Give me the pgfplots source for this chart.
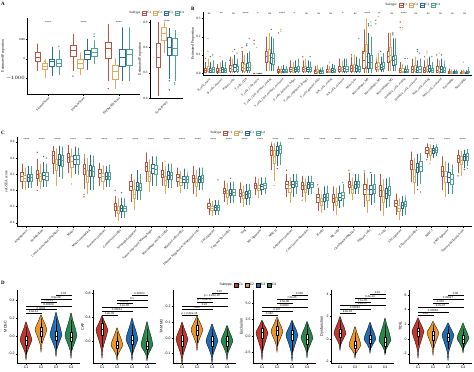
\documentclass[border=0pt]{standalone}
\usepackage{fontspec}
\setmainfont{Liberation Serif}
\setsansfont{Liberation Sans}
\usepackage{pgfplots}
\pgfplotsset{compat=1.18}

\definecolor{cA}{RGB}{184,84,68}
\definecolor{cB}{RGB}{222,170,92}
\definecolor{cC}{RGB}{40,108,148}
\definecolor{cD}{RGB}{78,162,148}
\definecolor{dA}{RGB}{196,54,42}
\definecolor{dB}{RGB}{236,150,40}
\definecolor{dC}{RGB}{28,110,180}
\definecolor{dD}{RGB}{40,135,75}

\newcommand{\fs}[1]{\fontsize{#1}{#1}\selectfont}
% box: #1 pos, #2 colour, #3 half width, #4 lower whisker, #5 q1, #6 median, #7 q3, #8 upper whisker
\newcommand{\bxg}[8]{%
\addplot[#2, line width=0.3pt, fill=white] table[row sep=\\, x expr=#1+(\thisrow{d})*#3, y=y] {d y\\ 0 #4\\ 0 #5\\ -1 #5\\ -1 #7\\ 0 #7\\ 0 #8\\ 0 #7\\ 1 #7\\ 1 #5\\ 0 #5\\};
\addplot[#2, line width=0.55pt] table[row sep=\\, x expr=#1+(\thisrow{d})*#3, y=y] {d y\\ -1 #6\\ 1 #6\\};}
\newcommand{\bA}[6]{\bxg{#1-0.3}{cA}{\bw}{#2}{#3}{#4}{#5}{#6}}
\newcommand{\bB}[6]{\bxg{#1-0.1}{cB}{\bw}{#2}{#3}{#4}{#5}{#6}}
\newcommand{\bC}[6]{\bxg{#1+0.1}{cC}{\bw}{#2}{#3}{#4}{#5}{#6}}
\newcommand{\bD}[6]{\bxg{#1+0.3}{cD}{\bw}{#2}{#3}{#4}{#5}{#6}}
\newcommand{\ib}[6]{\bxg{#1}{black}{0.06}{#2}{#3}{#4}{#5}{#6}}
\newcommand{\vio}[9]{\addplot[fill=#2, draw=black, line width=0.3pt, smooth, tension=0.5] table[row sep=\\, x expr=#1+\thisrow{w}, y=y] {w y\\ 0.4 #6\\ 0.28 #7\\ 0.12 #8\\ 0 #9\\ -0.12 #8\\ -0.28 #7\\ -0.4 #6\\ -0.24 #5\\ -0.06 #4\\ 0 #3\\ 0.06 #4\\ 0.24 #5\\ 0.4 #6\\};}
\newcommand{\br}[4]{\draw[line width=0.25pt] ([yshift=-0.8pt]axis cs:#1,#3) -- (axis cs:#1,#3) -- node[above, inner sep=0.3pt, font=\sffamily\fs{2.8}] {#4} (axis cs:#2,#3) -- ([yshift=-0.8pt]axis cs:#2,#3);}
\newcommand{\sg}[3]{\node[font=\fs{3}] at (axis cs:#1,#2) {#3};}

\pgfplotsset{
  base/.style={scale only axis, clip=false, axis x line*=bottom, axis y line*=left,
    axis line style={line width=0.35pt,-}, tick align=outside, major tick length=1.5pt,
    tick style={line width=0.3pt,black}, tick label style={font=\fs{3.3}},
    /pgf/number format/assume math mode=true, /pgf/number format/1000 sep={},
    scaled ticks=false, label style={font=\fs{3.8}}, ylabel style={inner sep=0.8pt},
    yticklabel style={inner sep=0.8pt}, xticklabel style={inner sep=1pt}},
  onedec/.style={yticklabel style={/pgf/number format/.cd, fixed, fixed zerofill, precision=1}},
  leg/.style={legend columns=-1, legend style={draw=none, fill=none, font=\fs{3.3}, inner sep=0pt,
    nodes={inner sep=0.6pt}, /tikz/every even column/.append style={column sep=1.5pt}}},
  boxleg/.style={legend image code/.code={\draw[#1, line width=0.3pt, fill=white] (0pt,-1.8pt) rectangle (4pt,1.8pt); \draw[#1, line width=0.3pt] (0pt,0pt)--(4pt,0pt);}},
  sqleg/.style={legend image code/.code={\draw[#1, draw=black, line width=0.2pt] (0pt,-1.8pt) rectangle (4pt,1.8pt);}},
  rot/.style={xticklabel style={rotate=45, anchor=north east, font=\fs{3.2}}},
  dax/.style={base, width=63pt, height=73pt, xmin=0.4, xmax=4.6, xtick={1,2,3,4}, xticklabels={C1,C2,C3,C4},
    tick label style={font=\sffamily\fs{3.5}}, label style={font=\sffamily\fs{3.8}}},
}

\begin{document}
\begin{tikzpicture}
\useasboundingbox (0pt,0pt) rectangle (474pt,-372pt);
\node[font=\bfseries\fs{5}, anchor=north west, inner sep=0] at (1pt,-2pt) {A};
\node[font=\bfseries\fs{5}, anchor=north west, inner sep=0] at (191pt,-7pt) {B};
\node[font=\bfseries\fs{5}, anchor=north west, inner sep=0] at (1pt,-131pt) {C};
\node[font=\bfseries\fs{5}, anchor=north west, inner sep=0] at (1pt,-281pt) {D};

% ---------------- A (left), values in thousands
\def\bw{0.08}
\begin{axis}[base, rot, at={(27pt,-18pt)}, anchor=north west, width=113pt, height=76pt,
  xmin=0.4, xmax=3.6, ymin=-1.8, ymax=2.1, xtick={1,2,3},
  xticklabels={StromalScore,ImmuneScore,ESTIMATEScore}, ytick={-1,0,1}, yticklabels={$-1000$,0,1000},
  yticklabel style={font=\fs{3}, inner sep=0.5pt}, ylabel style={inner sep=0.3pt},
  ylabel={Estimated Proportion}]
\bA{1}{-0.633}{-0.133}{0.083}{0.367}{0.783}
\bB{1}{-0.967}{-0.55}{-0.383}{-0.217}{-0.017}
\bC{1}{-0.883}{-0.383}{-0.133}{-0.017}{0.617}
\bD{1}{-0.8}{-0.383}{-0.217}{-0.017}{0.45}
\bA{2}{-0.633}{0.117}{0.45}{0.7}{1.283}
\bB{2}{-0.8}{-0.467}{-0.217}{-0.017}{0.317}
\bC{2}{-0.55}{-0.017}{0.25}{0.45}{1.033}
\bD{2}{-0.25}{0.117}{0.317}{0.533}{0.95}
\bA{3}{-1.133}{0.033}{0.567}{0.867}{1.783}
\bB{3}{-1.55}{-1.05}{-0.633}{-0.3}{0.033}
\bC{3}{-1.133}{-0.35}{0.083}{0.483}{1.617}
\bD{3}{-1.133}{-0.3}{0.25}{0.483}{1.617}
\addplot[only marks, mark=*, mark size=0.45pt, cA] coordinates {(1.7,-0.883) (2.7,-1.517)};
\addplot[only marks, mark=*, mark size=0.45pt, cB] coordinates {(0.9,-0.12)};
\addplot[only marks, mark=*, mark size=0.45pt, cD] coordinates {(1.3,0.65) (2.3,1.283) (2.3,1.15)};
\sg{1}{1.85}{****}\sg{2}{1.85}{****}\sg{3}{1.85}{****}
\end{axis}

% ---------------- A (right)
\def\bw{0.08}
\begin{axis}[base, rot, leg, at={(150pt,-20pt)}, anchor=north west, width=33pt, height=78pt,
  xmin=0.4, xmax=1.6, ymin=0, ymax=0.924, xtick={1}, xticklabels={TumorPurity},
  ytick={0,0.3,0.6,0.9}, onedec, ylabel={Estimated Proportion},
  legend style={at={(0.2,1.09)}, anchor=center}]
\addlegendimage{empty legend}\addlegendentry{Subtype}
\addlegendimage{boxleg,cA}\addlegendentry{C1}
\addlegendimage{boxleg,cB}\addlegendentry{C2}
\addlegendimage{boxleg,cC}\addlegendentry{C3}
\addlegendimage{boxleg,cD}\addlegendentry{C4}
\bA{1}{0.024}{0.36}{0.48}{0.648}{0.9}
\bB{1}{0.528}{0.684}{0.768}{0.84}{0.9}
\bC{1}{0.228}{0.504}{0.6}{0.72}{0.828}
\bD{1}{0.204}{0.504}{0.588}{0.708}{0.804}
\addplot[only marks, mark=*, mark size=0.45pt, cC] coordinates {(1.1,0.204) (1.1,0.096)};
\addplot[only marks, mark=*, mark size=0.45pt, cD] coordinates {(1.3,0.18) (1.3,0.16)};
\sg{1}{0.91}{****}
\end{axis}

% ---------------- B
\def\bw{0.085}
\begin{axis}[base, rot, leg, onedec, at={(203pt,-12pt)}, anchor=north west, width=269pt, height=63pt,
  xmin=0.5, xmax=22.6, ymin=-0.01, ymax=0.335, ytick={0,0.1,0.2,0.3},
  xtick={1,...,22}, ylabel={Estimated Proportion},
  xticklabel style={font=\fs{3}},
  xticklabels={B\_cells\_naive,B\_cells\_memory,Plasma\_cells,T\_cells\_CD8,T\_cells\_CD4\_naive,T\_cells\_CD4\_memory\_resting,T\_cells\_CD4\_memory\_activated,T\_cells\_follicular\_helper,T\_cells\_regulatory\_(Tregs),T\_cells\_gamma\_delta,NK\_cells\_resting,NK\_cells\_activated,Monocytes,Macrophages\_M0,Macrophages\_M1,Macrophages\_M2,Dendritic\_cells\_resting,Dendritic\_cells\_activated,Mast\_cells\_resting,Mast\_cells\_activated,Eosinophils,Neutrophils},
  legend style={at={(0.78,1.11)}, anchor=center}]
\addlegendimage{empty legend}\addlegendentry{Subtype}
\addlegendimage{boxleg,cA}\addlegendentry{C1}
\addlegendimage{boxleg,cB}\addlegendentry{C2}
\addlegendimage{boxleg,cC}\addlegendentry{C3}
\addlegendimage{boxleg,cD}\addlegendentry{C4}
\bA{1}{0}{0.005}{0.015}{0.03}{0.06}\bB{1}{0}{0.01}{0.02}{0.04}{0.08}\bC{1}{0}{0.005}{0.015}{0.03}{0.06}\bD{1}{0}{0.008}{0.02}{0.035}{0.07}
\bA{2}{0}{0.003}{0.01}{0.025}{0.05}\bB{2}{0}{0.005}{0.015}{0.03}{0.06}\bC{2}{0}{0.005}{0.02}{0.035}{0.07}\bD{2}{0}{0.005}{0.015}{0.03}{0.06}
\bA{3}{0}{0.01}{0.025}{0.045}{0.09}\bB{3}{0}{0.01}{0.02}{0.04}{0.08}\bC{3}{0}{0.012}{0.03}{0.05}{0.1}\bD{3}{0}{0.01}{0.02}{0.04}{0.08}
\bA{4}{0}{0.015}{0.035}{0.06}{0.12}\bB{4}{0}{0.01}{0.025}{0.05}{0.1}\bC{4}{0}{0.015}{0.03}{0.055}{0.11}\bD{4}{0}{0.015}{0.035}{0.06}{0.12}
\bA{5}{0}{0}{0}{0}{0.002}\bB{5}{0}{0}{0}{0}{0.002}\bC{5}{0}{0}{0}{0}{0.002}\bD{5}{0}{0}{0}{0}{0.002}
\bA{6}{0.01}{0.06}{0.09}{0.12}{0.2}\bB{6}{0.01}{0.065}{0.1}{0.13}{0.22}\bC{6}{0.01}{0.055}{0.085}{0.11}{0.2}\bD{6}{0.01}{0.05}{0.08}{0.11}{0.19}
\bA{7}{0}{0.003}{0.01}{0.02}{0.04}\bB{7}{0}{0.003}{0.01}{0.02}{0.04}\bC{7}{0}{0.005}{0.012}{0.022}{0.045}\bD{7}{0}{0.004}{0.01}{0.02}{0.04}
\bA{8}{0}{0.01}{0.02}{0.035}{0.07}\bB{8}{0}{0.008}{0.015}{0.03}{0.06}\bC{8}{0}{0.01}{0.02}{0.035}{0.07}\bD{8}{0}{0.01}{0.02}{0.04}{0.08}
\bA{9}{0}{0.01}{0.02}{0.035}{0.07}\bB{9}{0}{0.01}{0.025}{0.04}{0.08}\bC{9}{0}{0.01}{0.02}{0.035}{0.07}\bD{9}{0}{0.01}{0.02}{0.035}{0.065}
\bA{10}{0}{0.002}{0.008}{0.018}{0.04}\bB{10}{0}{0.003}{0.01}{0.02}{0.045}\bC{10}{0}{0.002}{0.008}{0.016}{0.035}\bD{10}{0}{0.002}{0.008}{0.016}{0.035}
\bA{11}{0}{0.005}{0.012}{0.022}{0.045}\bB{11}{0}{0.005}{0.012}{0.02}{0.04}\bC{11}{0}{0.006}{0.014}{0.025}{0.05}\bD{11}{0}{0.005}{0.012}{0.022}{0.045}
\bA{12}{0}{0.01}{0.02}{0.04}{0.08}\bB{12}{0}{0.01}{0.02}{0.035}{0.07}\bC{12}{0}{0.01}{0.025}{0.04}{0.08}\bD{12}{0}{0.01}{0.022}{0.04}{0.08}
\bA{13}{0}{0.01}{0.025}{0.045}{0.09}\bB{13}{0}{0.01}{0.03}{0.05}{0.1}\bC{13}{0}{0.01}{0.025}{0.045}{0.09}\bD{13}{0}{0.01}{0.02}{0.04}{0.08}
\bA{14}{0}{0.03}{0.07}{0.12}{0.24}\bB{14}{0}{0.04}{0.09}{0.16}{0.3}\bC{14}{0}{0.025}{0.06}{0.11}{0.22}\bD{14}{0}{0.025}{0.06}{0.1}{0.2}
\bA{15}{0.005}{0.02}{0.035}{0.055}{0.1}\bB{15}{0.005}{0.02}{0.04}{0.06}{0.11}\bC{15}{0.005}{0.02}{0.035}{0.05}{0.09}\bD{15}{0.005}{0.025}{0.04}{0.06}{0.11}
\bA{16}{0.01}{0.06}{0.09}{0.12}{0.22}\bB{16}{0.01}{0.07}{0.1}{0.14}{0.22}\bC{16}{0.01}{0.045}{0.07}{0.095}{0.19}\bD{16}{0.01}{0.05}{0.075}{0.1}{0.19}
\bA{17}{0}{0.005}{0.015}{0.03}{0.06}\bB{17}{0}{0.005}{0.01}{0.025}{0.05}\bC{17}{0}{0.005}{0.01}{0.02}{0.04}\bD{17}{0}{0.005}{0.01}{0.02}{0.045}
\bA{18}{0}{0.005}{0.02}{0.04}{0.08}\bB{18}{0}{0.01}{0.02}{0.045}{0.09}\bC{18}{0}{0.005}{0.015}{0.035}{0.07}\bD{18}{0}{0.005}{0.02}{0.04}{0.08}
\bA{19}{0}{0.005}{0.015}{0.035}{0.07}\bB{19}{0}{0.01}{0.02}{0.04}{0.08}\bC{19}{0}{0.01}{0.025}{0.045}{0.09}\bD{19}{0}{0.005}{0.015}{0.03}{0.06}
\bA{20}{0}{0.005}{0.015}{0.04}{0.08}\bB{20}{0}{0.003}{0.01}{0.03}{0.07}\bC{20}{0}{0.005}{0.02}{0.04}{0.08}\bD{20}{0}{0.005}{0.015}{0.035}{0.07}
\bA{21}{0}{0.002}{0.005}{0.012}{0.025}\bB{21}{0}{0.002}{0.005}{0.01}{0.02}\bC{21}{0}{0.002}{0.005}{0.01}{0.02}\bD{21}{0}{0.002}{0.005}{0.01}{0.02}
\bA{22}{0}{0.001}{0.004}{0.008}{0.015}\bB{22}{0}{0.002}{0.005}{0.01}{0.02}\bC{22}{0}{0.002}{0.004}{0.008}{0.015}\bD{22}{0}{0.003}{0.006}{0.012}{0.025}
\addplot[only marks, mark=*, mark size=0.4pt, cA] coordinates {(0.7,0.08) (2.7,0.07) (3.7,0.14) (3.7,0.12) (4.7,0.18) (4.7,0.16) (6.7,0.22) (8.7,0.09) (12.7,0.1) (13.7,0.11) (14.7,0.27) (14.7,0.29) (16.7,0.28) (16.7,0.25) (18.7,0.09) (19.7,0.1)};
\addplot[only marks, mark=*, mark size=0.4pt, cB] coordinates {(0.9,0.19) (0.9,0.12) (1.9,0.09) (2.9,0.12) (4.9,0.14) (6.9,0.24) (6.9,0.23) (10.9,0.06) (13.9,0.12) (14.9,0.31) (14.9,0.33) (16.9,0.25) (18.9,0.11) (18.9,0.12) (19.9,0.11) (21.9,0.06)};
\addplot[only marks, mark=*, mark size=0.4pt, cC] coordinates {(1.1,0.09) (3.1,0.13) (4.1,0.16) (4.1,0.15) (6.1,0.24) (14.1,0.27) (14.1,0.26) (15.1,0.12) (16.1,0.22) (16.1,0.21) (17.1,0.08) (18.1,0.13) (18.1,0.12) (20.1,0.1)};
\addplot[only marks, mark=*, mark size=0.4pt, cD] coordinates {(1.3,0.1) (3.3,0.11) (4.3,0.19) (9.3,0.09) (13.3,0.19) (14.3,0.28) (14.3,0.26) (17.3,0.08) (18.3,0.11) (19.3,0.09) (22.3,0.03)};
\sg{1}{0.325}{ns}\sg{2}{0.325}{**}\sg{3}{0.325}{ns}\sg{4}{0.325}{****}\sg{5}{0.325}{*}\sg{6}{0.325}{ns}
\sg{7}{0.325}{****}\sg{8}{0.325}{*}\sg{9}{0.325}{ns}\sg{10}{0.325}{ns}\sg{11}{0.325}{ns}\sg{12}{0.325}{*}
\sg{13}{0.325}{ns}\sg{14}{0.325}{****}\sg{15}{0.325}{*}\sg{16}{0.325}{ns}\sg{17}{0.325}{****}\sg{18}{0.325}{ns}
\sg{19}{0.325}{ns}\sg{20}{0.325}{ns}\sg{21}{0.325}{ns}\sg{22}{0.325}{ns}
\end{axis}

% ---------------- C
\def\bw{0.075}
\begin{axis}[base, rot, leg, onedec, at={(17pt,-137pt)}, anchor=north west, width=455pt, height=89pt,
  xmin=0.4, xmax=29.6, ymin=-0.44, ymax=0.66, ytick={-0.4,-0.2,0,0.2,0.4,0.6},
  xtick={1,...,29}, ylabel={ssGSEA score},
  xticklabels={Angiogenesis,Endothelium,Cancer associated fibroblasts,Matrix,Matrix remodeling,Protumor cytokines,Granulocyte traffic,Neutrophil signature,Tumor-associated Macrophages,Macrophage and DC traffic,Myeloid cells traffic,Immune Suppression by Myeloid cells,Th2 signature,Treg and Th2 traffic,Treg,M1 signatures,MHC II,Antitumor cytokines,Coactivation molecules,B cells,NK cells,Checkpoint inhibition,Effector cells,T cells,Th1 signature,Effector cell traffic,MHC I,EMT signature,Tumor proliferation rate},
  legend style={at={(0.485,1.015)}, anchor=south}]
\addlegendimage{empty legend}\addlegendentry{Subtype}
\addlegendimage{boxleg,cA}\addlegendentry{C1}
\addlegendimage{boxleg,cB}\addlegendentry{C2}
\addlegendimage{boxleg,cC}\addlegendentry{C3}
\addlegendimage{boxleg,cD}\addlegendentry{C4}
\bA{1}{0.02}{0.12}{0.18}{0.22}{0.33}\bB{1}{0.0}{0.11}{0.15}{0.19}{0.28}\bC{1}{0.03}{0.12}{0.16}{0.2}{0.3}\bD{1}{0.03}{0.12}{0.16}{0.2}{0.3}
\bA{2}{0.05}{0.15}{0.2}{0.25}{0.39}\bB{2}{0.02}{0.12}{0.17}{0.21}{0.33}\bC{2}{0.04}{0.14}{0.19}{0.23}{0.35}\bD{2}{0.04}{0.13}{0.18}{0.22}{0.33}
\bA{3}{0.2}{0.34}{0.43}{0.49}{0.55}\bB{3}{0.06}{0.25}{0.32}{0.39}{0.52}\bC{3}{0.16}{0.31}{0.39}{0.45}{0.55}\bD{3}{0.14}{0.3}{0.37}{0.44}{0.54}
\bA{4}{0.22}{0.35}{0.41}{0.46}{0.56}\bB{4}{0.15}{0.29}{0.36}{0.42}{0.52}\bC{4}{0.2}{0.33}{0.39}{0.44}{0.54}\bD{4}{0.19}{0.32}{0.38}{0.43}{0.53}
\bA{5}{0.02}{0.2}{0.27}{0.33}{0.45}\bB{5}{-0.05}{0.1}{0.18}{0.25}{0.4}\bC{5}{0.0}{0.17}{0.25}{0.31}{0.44}\bD{5}{0.0}{0.17}{0.24}{0.3}{0.43}
\bA{6}{0.05}{0.16}{0.21}{0.26}{0.34}\bB{6}{0.0}{0.12}{0.17}{0.21}{0.31}\bC{6}{0.04}{0.14}{0.18}{0.22}{0.3}\bD{6}{0.04}{0.14}{0.18}{0.22}{0.32}
\bA{7}{-0.33}{-0.24}{-0.2}{-0.16}{-0.07}\bB{7}{-0.38}{-0.28}{-0.24}{-0.2}{-0.1}\bC{7}{-0.34}{-0.26}{-0.22}{-0.18}{-0.09}\bD{7}{-0.34}{-0.26}{-0.22}{-0.19}{-0.1}
\bA{8}{-0.14}{0.0}{0.05}{0.11}{0.2}\bB{8}{-0.24}{-0.1}{-0.05}{0.02}{0.14}\bC{8}{-0.12}{0.0}{0.05}{0.1}{0.25}\bD{8}{-0.12}{0.0}{0.04}{0.09}{0.2}
\bA{9}{0.1}{0.24}{0.3}{0.35}{0.47}\bB{9}{-0.02}{0.12}{0.17}{0.24}{0.38}\bC{9}{0.06}{0.21}{0.27}{0.32}{0.42}\bD{9}{0.06}{0.2}{0.26}{0.31}{0.42}
\bA{10}{0.05}{0.16}{0.2}{0.25}{0.35}\bB{10}{-0.05}{0.07}{0.12}{0.18}{0.3}\bC{10}{0.03}{0.14}{0.19}{0.24}{0.33}\bD{10}{0.03}{0.14}{0.19}{0.23}{0.33}
\bA{11}{0.04}{0.12}{0.16}{0.2}{0.28}\bB{11}{-0.03}{0.06}{0.1}{0.15}{0.24}\bC{11}{0.02}{0.1}{0.14}{0.18}{0.27}\bD{11}{0.02}{0.1}{0.14}{0.18}{0.26}
\bA{12}{-0.05}{0.1}{0.15}{0.19}{0.3}\bB{12}{-0.08}{0.05}{0.1}{0.15}{0.25}\bC{12}{0.0}{0.1}{0.14}{0.18}{0.28}\bD{12}{0.0}{0.1}{0.15}{0.19}{0.28}
\bA{13}{-0.3}{-0.22}{-0.19}{-0.16}{-0.1}\bB{13}{-0.32}{-0.25}{-0.22}{-0.19}{-0.13}\bC{13}{-0.3}{-0.24}{-0.21}{-0.18}{-0.12}\bD{13}{-0.3}{-0.24}{-0.21}{-0.18}{-0.12}
\bA{14}{-0.14}{-0.04}{-0.01}{0.03}{0.12}\bB{14}{-0.18}{-0.08}{-0.04}{0.0}{0.09}\bC{14}{-0.16}{-0.06}{-0.03}{0.01}{0.1}\bD{14}{-0.16}{-0.06}{-0.02}{0.02}{0.11}
\bA{15}{-0.16}{-0.07}{-0.03}{0.01}{0.1}\bB{15}{-0.2}{-0.1}{-0.06}{-0.02}{0.06}\bC{15}{-0.18}{-0.09}{-0.05}{-0.01}{0.08}\bD{15}{-0.18}{-0.08}{-0.04}{0.0}{0.08}
\bA{16}{-0.06}{0.03}{0.06}{0.09}{0.17}\bB{16}{-0.1}{0.0}{0.03}{0.07}{0.15}\bC{16}{-0.06}{0.02}{0.05}{0.08}{0.16}\bD{16}{-0.05}{0.03}{0.06}{0.09}{0.16}
\bA{17}{0.25}{0.44}{0.5}{0.55}{0.6}\bB{17}{0.12}{0.34}{0.42}{0.5}{0.58}\bC{17}{0.3}{0.44}{0.5}{0.55}{0.6}\bD{17}{0.32}{0.46}{0.51}{0.56}{0.6}
\bA{18}{-0.08}{0.03}{0.07}{0.11}{0.2}\bB{18}{-0.15}{-0.02}{0.03}{0.07}{0.16}\bC{18}{-0.08}{0.04}{0.08}{0.12}{0.2}\bD{18}{-0.05}{0.05}{0.09}{0.12}{0.2}
\bA{19}{-0.08}{0.02}{0.06}{0.1}{0.18}\bB{19}{-0.14}{-0.02}{0.02}{0.06}{0.15}\bC{19}{-0.06}{0.03}{0.07}{0.1}{0.18}\bD{19}{-0.05}{0.04}{0.07}{0.1}{0.18}
\bA{20}{-0.25}{-0.14}{-0.09}{-0.05}{0.03}\bB{20}{-0.28}{-0.18}{-0.14}{-0.09}{0.0}\bC{20}{-0.24}{-0.13}{-0.09}{-0.05}{0.05}\bD{20}{-0.22}{-0.12}{-0.08}{-0.04}{0.06}
\bA{21}{-0.25}{-0.14}{-0.1}{-0.05}{0.05}\bB{21}{-0.3}{-0.18}{-0.13}{-0.08}{0.03}\bC{21}{-0.22}{-0.12}{-0.08}{-0.03}{0.06}\bD{21}{-0.2}{-0.1}{-0.06}{-0.02}{0.08}
\bA{22}{-0.05}{0.04}{0.08}{0.12}{0.22}\bB{22}{-0.12}{-0.03}{0.02}{0.07}{0.16}\bC{22}{-0.05}{0.03}{0.07}{0.11}{0.2}\bD{22}{-0.04}{0.04}{0.08}{0.12}{0.2}
\bA{23}{-0.2}{-0.05}{0.02}{0.08}{0.22}\bB{23}{-0.28}{-0.12}{-0.05}{0.02}{0.15}\bC{23}{-0.18}{-0.05}{0.01}{0.06}{0.2}\bD{23}{-0.15}{-0.03}{0.02}{0.08}{0.2}
\bA{24}{-0.25}{-0.07}{0.0}{0.06}{0.2}\bB{24}{-0.32}{-0.14}{-0.07}{0.0}{0.14}\bC{24}{-0.22}{-0.09}{-0.03}{0.03}{0.15}\bD{24}{-0.2}{-0.06}{0.0}{0.05}{0.16}
\bA{25}{-0.3}{-0.2}{-0.16}{-0.12}{-0.04}\bB{25}{-0.36}{-0.26}{-0.22}{-0.18}{-0.1}\bC{25}{-0.32}{-0.22}{-0.18}{-0.14}{-0.07}\bD{25}{-0.3}{-0.2}{-0.17}{-0.13}{-0.06}
\bA{26}{0.1}{0.26}{0.32}{0.38}{0.48}\bB{26}{-0.05}{0.1}{0.17}{0.26}{0.4}\bC{26}{0.06}{0.22}{0.28}{0.34}{0.45}\bD{26}{0.08}{0.24}{0.3}{0.36}{0.46}
\bA{27}{0.4}{0.46}{0.5}{0.53}{0.58}\bB{27}{0.36}{0.44}{0.48}{0.52}{0.57}\bC{27}{0.4}{0.46}{0.49}{0.52}{0.56}\bD{27}{0.42}{0.47}{0.5}{0.53}{0.57}
\bA{28}{0.0}{0.18}{0.24}{0.3}{0.42}\bB{28}{-0.08}{0.1}{0.17}{0.24}{0.36}\bC{28}{-0.05}{0.1}{0.16}{0.22}{0.34}\bD{28}{-0.05}{0.08}{0.14}{0.2}{0.32}
\bA{29}{0.22}{0.35}{0.4}{0.44}{0.5}\bB{29}{0.18}{0.32}{0.37}{0.42}{0.49}\bC{29}{0.28}{0.38}{0.42}{0.45}{0.5}\bD{29}{0.3}{0.38}{0.42}{0.46}{0.51}
\addplot[only marks, mark=*, mark size=0.4pt, cA] coordinates {(1.7,0.0) (1.7,0.47) (4.7,-0.05) (4.7,-0.08) (6.7,0.0) (17.7,0.25) (18.7,-0.12) (19.7,0.07) (21.7,0.25) (22.7,0.24) (26.7,0.38) (28.7,0.18)};
\addplot[only marks, mark=*, mark size=0.4pt, cB] coordinates {(3.9,0.08) (9.9,0.36) (16.9,0.06) (26.9,0.33)};
\addplot[only marks, mark=*, mark size=0.4pt, cC] coordinates {(2.1,0.42) (7.1,-0.03) (14.1,0.15) (17.1,0.27) (23.1,0.22) (26.1,0.01) (29.1,0.26)};
\addplot[only marks, mark=*, mark size=0.4pt, cD] coordinates {(2.3,0.4) (13.3,0.13) (21.3,0.1) (26.3,-0.02) (29.3,0.27)};
\pgfplotsinvokeforeach{1,...,29}{\node[font=\fs{3}] at (axis cs:#1,0.625) {****};}
\end{axis}

% ---------------- D1 MDSC
\begin{axis}[dax, onedec, at={(17pt,-290pt)}, anchor=north west, ymin=-0.305, ymax=0.52,
  ytick={-0.2,0,0.2,0.4}, ylabel={MDSC}]
\vio{1}{dA}{-0.27}{-0.191}{-0.112}{-0.045}{0.027}{0.098}{0.16}
\vio{2}{dB}{-0.18}{-0.0925}{-0.005}{0.07}{0.13}{0.19}{0.24}
\vio{3}{dC}{-0.23}{-0.146}{-0.062}{0.01}{0.1}{0.19}{0.27}
\vio{4}{dD}{-0.25}{-0.1625}{-0.075}{0}{0.09}{0.18}{0.26}
\ib{1}{-0.2}{-0.1}{-0.05}{0}{0.1}
\ib{2}{-0.08}{0}{0.05}{0.1}{0.2}
\ib{3}{-0.15}{-0.05}{0}{0.05}{0.2}
\ib{4}{-0.17}{-0.06}{-0.01}{0.04}{0.18}
\br{1}{2}{0.26}{2.6e-14}\br{1}{3}{0.30}{0.0004}\br{1}{4}{0.34}{0.00029}
\br{2}{3}{0.38}{7.7e-13}\br{2}{4}{0.42}{6.9e-08}\br{3}{4}{0.46}{0.03}
\end{axis}

% ---------------- D2 CAF
\begin{axis}[dax, onedec, at={(93pt,-290pt)}, anchor=north west, ymin=-0.367, ymax=0.85,
  ytick={-0.4,0,0.4,0.8}, ylabel={CAF}]
\vio{1}{dA}{-0.29}{-0.1255}{0.039}{0.18}{0.264}{0.348}{0.42}
\vio{2}{dB}{-0.32}{-0.2325}{-0.145}{-0.07}{0.0315}{0.133}{0.22}
\vio{3}{dC}{-0.32}{-0.1975}{-0.075}{0.03}{0.1525}{0.275}{0.38}
\vio{4}{dD}{-0.33}{-0.239}{-0.148}{-0.07}{0.0665}{0.203}{0.32}
\ib{1}{-0.1}{0.1}{0.2}{0.3}{0.4}
\ib{2}{-0.25}{-0.12}{-0.07}{0}{0.15}
\ib{3}{-0.2}{-0.05}{0.02}{0.1}{0.28}
\ib{4}{-0.28}{-0.14}{-0.08}{0}{0.2}
\br{1}{2}{0.433}{1.2e-05}\br{1}{3}{0.506}{0.00014}\br{1}{4}{0.572}{1.1e-06}
\br{2}{3}{0.628}{0.0072}\br{2}{4}{0.683}{0.1}\br{3}{4}{0.767}{0.00023}
\end{axis}

% ---------------- D3 TAM M2
\begin{axis}[dax, onedec, leg, at={(173pt,-290pt)}, anchor=north west, ymin=-0.16, ymax=0.306,
  ytick={-0.1,0,0.1,0.2}, ylabel={TAM M2},
  legend style={at={(1.19,1.07)}, anchor=center, font=\sffamily\fs{3.3}}]
\addlegendimage{empty legend}\addlegendentry{Subtype}
\addlegendimage{sqleg,fill=dA}\addlegendentry{C1}
\addlegendimage{sqleg,fill=dB}\addlegendentry{C2}
\addlegendimage{sqleg,fill=dC}\addlegendentry{C3}
\addlegendimage{sqleg,fill=dD}\addlegendentry{C4}
\vio{1}{dA}{-0.17}{-0.114}{-0.058}{-0.01}{0.0285}{0.067}{0.10}
\vio{2}{dB}{-0.08}{-0.0345}{0.011}{0.05}{0.082}{0.114}{0.14}
\vio{3}{dC}{-0.16}{-0.111}{-0.062}{-0.02}{0.0185}{0.057}{0.09}
\vio{4}{dD}{-0.14}{-0.098}{-0.056}{-0.02}{0.015}{0.05}{0.08}
\ib{1}{-0.1}{-0.05}{-0.02}{0.02}{0.08}
\ib{2}{-0.03}{0.02}{0.05}{0.08}{0.13}
\ib{3}{-0.1}{-0.05}{-0.02}{0.01}{0.06}
\ib{4}{-0.09}{-0.05}{-0.02}{0.01}{0.06}
\br{1}{2}{0.146}{p < 2.22e-16}\br{1}{3}{0.183}{0.06}\br{1}{4}{0.204}{0.21}
\br{2}{3}{0.231}{p = 4.4e-11}\br{2}{4}{0.257}{p < 2.22e-16}\br{3}{4}{0.285}{0.97}
\end{axis}

% ---------------- D4 Exclusion
\begin{axis}[dax, onedec, at={(253pt,-290pt)}, anchor=north west, ymin=-4.09, ymax=6.97,
  ytick={-2.5,0,2.5,5}, ylabel={Exclusion}]
\vio{1}{dA}{-3.6}{-2.18}{-0.765}{0.45}{1.13}{1.815}{2.4}
\vio{2}{dB}{-2.4}{-1.33}{-0.265}{0.65}{1.44}{2.225}{2.9}
\vio{3}{dC}{-3.8}{-2.42}{-1.035}{0.15}{0.94}{1.725}{2.4}
\vio{4}{dD}{-3.3}{-2.25}{-1.2}{-0.3}{0.575}{1.45}{2.2}
\ib{1}{-2.2}{-0.4}{0.5}{1.2}{2.1}
\ib{2}{-1.5}{0.1}{0.9}{1.5}{2.5}
\ib{3}{-2.4}{-0.6}{0.2}{0.9}{2.2}
\ib{4}{-2.4}{-1.2}{-0.5}{0.3}{1.8}
\br{1}{2}{3.18}{0.062}\br{1}{3}{3.84}{0.037}\br{1}{4}{4.44}{0.0023}
\br{2}{3}{4.95}{2.5e-06}\br{2}{4}{5.56}{7.2e-05}\br{3}{4}{6.21}{0.038}
\end{axis}

% ---------------- D5 Dysfunction
\begin{axis}[dax, at={(331pt,-290pt)}, anchor=north west, ymin=-2.13, ymax=4.36,
  ytick={-2,0,2,4}, ylabel={Dysfunction}]
\vio{1}{dA}{-1.0}{-0.475}{0.05}{0.5}{1.025}{1.55}{2.0}
\vio{2}{dB}{-1.7}{-1.2975}{-0.895}{-0.55}{0.0275}{0.605}{1.1}
\vio{3}{dC}{-1.25}{-0.8125}{-0.375}{0}{0.525}{1.05}{1.5}
\vio{4}{dD}{-1.4}{-0.945}{-0.49}{-0.1}{0.5825}{1.265}{1.85}
\ib{1}{-0.6}{0.15}{0.5}{0.9}{1.7}
\ib{2}{-1.4}{-0.85}{-0.55}{-0.2}{0.6}
\ib{3}{-1.0}{-0.35}{0}{0.35}{1.2}
\ib{4}{-1.2}{-0.6}{-0.3}{0.15}{1.3}
\br{1}{2}{2.28}{9.8e-18}\br{1}{3}{2.64}{0.00092}\br{1}{4}{3.02}{3.1e-07}
\br{2}{3}{3.26}{2.1e-05}\br{2}{4}{3.62}{6.4e-13}\br{3}{4}{4.0}{0.16}
\end{axis}

% ---------------- D6 TIDE
\begin{axis}[dax, at={(409pt,-290pt)}, anchor=north west, ymin=-3.27, ymax=6.67,
  ytick={-2,0,2,4,6}, ylabel={TIDE}]
\vio{1}{dA}{-2.6}{-1.34}{-0.08}{1.0}{1.665}{2.33}{2.9}
\vio{2}{dB}{-2.2}{-1.15}{-0.1}{0.8}{1.36}{1.92}{2.4}
\vio{3}{dC}{-2.9}{-1.71}{-0.52}{0.5}{1.095}{1.69}{2.2}
\vio{4}{dD}{-1.9}{-1.2}{-0.5}{0.1}{0.835}{1.57}{2.2}
\ib{1}{-0.8}{0.4}{1.0}{1.5}{2.4}
\ib{2}{-1.2}{-0.1}{0.5}{1.1}{2.0}
\ib{3}{-1.4}{-0.3}{0.3}{0.8}{1.8}
\ib{4}{-1.3}{-0.5}{0}{0.5}{1.4}
\br{1}{2}{3.26}{0.12}\br{1}{3}{3.72}{0.00066}\br{1}{4}{4.31}{2.7e-07}
\br{2}{3}{4.86}{0.003}\br{2}{4}{5.4}{0.00027}\br{3}{4}{5.98}{0.08}
\end{axis}
\end{tikzpicture}
\end{document}
